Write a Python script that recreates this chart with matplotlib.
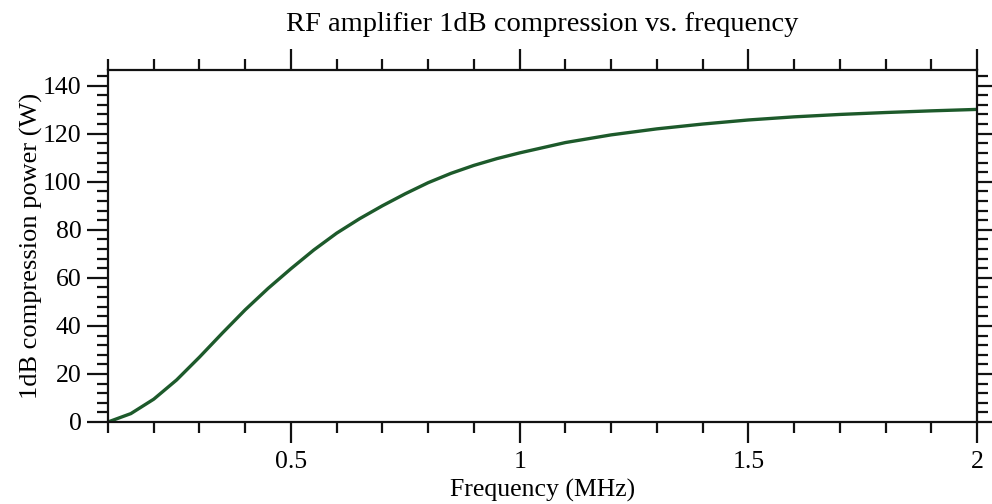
import matplotlib
matplotlib.use("Agg")
import matplotlib.pyplot as plt
from matplotlib.ticker import MultipleLocator, FixedLocator

# Measured 1 dB compression point of the RF amplifier
freq_mhz = [0.10, 0.15, 0.20, 0.25, 0.30, 0.35, 0.40, 0.45, 0.50, 0.55,
            0.60, 0.65, 0.70, 0.75, 0.80, 0.85, 0.90, 0.95, 1.00, 1.10,
            1.20, 1.30, 1.40, 1.50, 1.60, 1.70, 1.80, 1.90, 2.00]
power_w = [0.0, 3.5, 9.5, 17.5, 27.0, 37.0, 46.7, 55.6, 63.8, 71.6,
           78.6, 84.6, 90.0, 95.0, 99.6, 103.5, 106.8, 109.6, 112.0, 116.3,
           119.5, 122.0, 124.0, 125.7, 127.0, 128.0, 128.8, 129.5, 130.1]

x_major = [0.5, 1.0, 1.5, 2.0]
x_labels = ["0.5", "1", "1.5", "2"]

plt.rcParams["font.family"] = ["Liberation Serif", "DejaVu Serif"]

fig = plt.figure(figsize=(9.92, 5.04), dpi=100)
ax = fig.add_axes([108 / 992, 1 - 422 / 504, (977 - 108) / 992, 352 / 504])

ax.plot(freq_mhz, power_w, color="#1d5a2b", linewidth=2.4,
        solid_joinstyle="round", solid_capstyle="round")

ax.set_xlim(0.1, 2.0)
ax.set_ylim(0, 146.5)

ax.xaxis.set_major_locator(FixedLocator(x_major))
ax.set_xticklabels(x_labels)
ax.xaxis.set_minor_locator(MultipleLocator(0.1))
ax.yaxis.set_major_locator(MultipleLocator(20))
ax.yaxis.set_minor_locator(MultipleLocator(4))

ax.tick_params(which="both", direction="out", top=True, right=True,
               labeltop=False, labelright=False, color="#111111", width=1.6)
ax.tick_params(which="major", length=15, labelsize=18.5, pad=4)
ax.tick_params(axis="x", which="major", pad=6)
ax.tick_params(which="minor", length=8)
for s in ax.spines.values():
    s.set_linewidth(1.6)
    s.set_color("#111111")

ax.set_xlabel("Frequency (MHz)", fontsize=18.5, labelpad=4)
ax.set_ylabel("1dB compression power (W)", fontsize=19, labelpad=0)
ax.set_title("RF amplifier 1dB compression vs. frequency", fontsize=20.5, pad=28)

fig.savefig("out.png", dpi=100)
